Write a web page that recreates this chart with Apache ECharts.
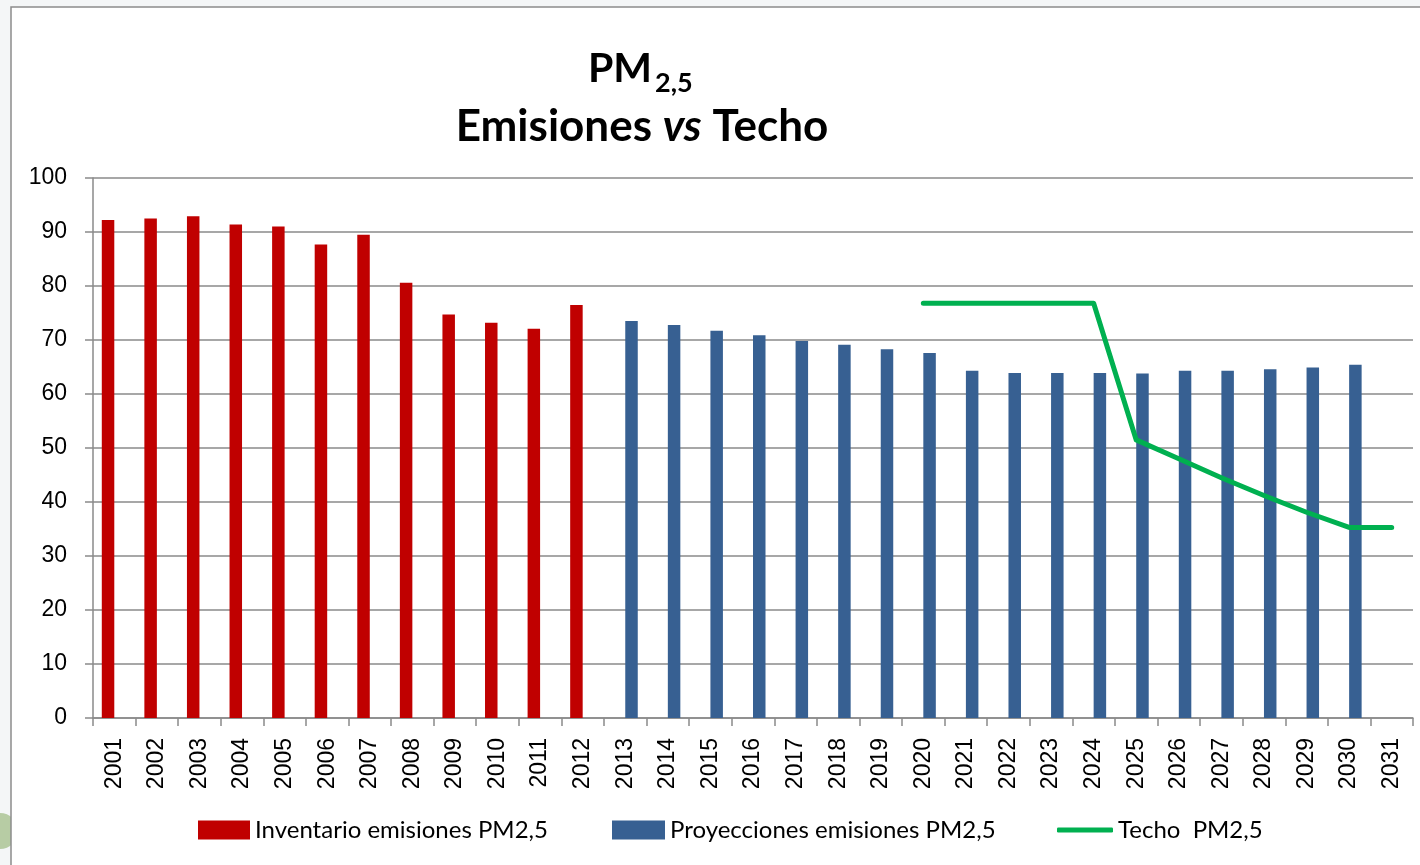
<!DOCTYPE html>
<html>
<head>
<meta charset="utf-8">
<script src="https://cdn.jsdelivr.net/npm/echarts@6/dist/echarts.min.js"></script>
<style>
  html, body { margin: 0; padding: 0; background: #fff; }
  #chart { width: 1420px; height: 865px; }
</style>
</head>
<body>
<div id="chart"></div>
<script>
'use strict';
// PM2,5 emisiones vs techo
const years = ['2001', '2002', '2003', '2004', '2005', '2006', '2007', '2008', '2009', '2010', '2011', '2012', '2013', '2014', '2015', '2016',
  '2017', '2018', '2019', '2020', '2021', '2022', '2023', '2024', '2025', '2026', '2027', '2028', '2029', '2030', '2031'];
// 2001-2012
const inventario = [92.2, 92.5, 92.9, 91.4, 91.0, 87.7, 89.5, 80.6, 74.7, 73.2, 72.1, 76.5];
// 2013-2030
const proyecciones = [73.5, 72.8, 71.7, 70.9, 69.8, 69.1, 68.3, 67.6, 64.3, 63.9, 63.9, 63.9, 63.8, 64.3, 64.3, 64.6, 64.9, 65.4];
// 2020-2031
const techo = [76.8, 76.8, 76.8, 76.8, 76.8, 51.5, 48.0, 44.5, 41.2, 38.1, 35.3, 35.3];
const yTicks = { min: 0, max: 100, step: 10 };

const NAMES = ['Inventario emisiones PM2,5', 'Proyecciones emisiones PM2,5', 'Techo  PM2,5'];
const COLOR = { red: '#c00000', blue: '#376092', green: '#00b050', grid: '#8a8a8a' };

// rellenar con null para alinear con las categorías
const pad = (arr, start) => years.map((y, i) => (i >= start && i - start < arr.length ? arr[i - start] : null));
const invData = pad(inventario, 0);
const proData = pad(proyecciones, years.indexOf('2013'));
const techoData = pad(techo, years.indexOf('2020'));

const chart = echarts.init(document.getElementById('chart'));
const legendText = { fontFamily: 'Lato', fontSize: 24, color: '#000' };

chart.setOption({
  backgroundColor: '#f4f6f7',
  animation: false,
  graphic: [
    { type: 'circle', shape: { cx: 0, cy: 831, r: 18 }, style: { fill: '#b7cca4' }, z: -3 },
    { type: 'rect', shape: { x: 11, y: 7, width: 1500, height: 1000 }, style: { fill: '#fff', stroke: '#8c8c8c', lineWidth: 1.5 }, z: -2 },
    { type: 'text', x: 652, y: 48, style: { text: 'PM', textAlign: 'right', font: 'bold 41px Lato', fill: '#000' } },
    { type: 'text', x: 655, y: 70, style: { text: '2,5', textAlign: 'left', font: 'bold 27px Lato', fill: '#000' } },
    {
      type: 'text', x: 642, y: 105,
      style: {
        text: '{b|Emisiones }{i|vs}{b| Techo}', textAlign: 'center',
        rich: {
          b: { fontFamily: 'Lato', fontWeight: 'bold', fontSize: 44, fill: '#000' },
          i: { fontFamily: 'Lato', fontWeight: 'bold', fontStyle: 'italic', fontSize: 44, fill: '#000' }
        }
      }
    }
  ],
  legend: [
    { left: 198, top: 818, padding: 0, itemWidth: 52, itemHeight: 19, itemGap: 4, icon: 'rect', textStyle: legendText, data: [NAMES[0]] },
    { left: 612, top: 818, padding: 0, itemWidth: 53, itemHeight: 19, itemGap: 4, icon: 'rect', textStyle: legendText, data: [NAMES[1]] },
    { left: 1057, top: 818, padding: 0, itemWidth: 56, itemHeight: 5, itemGap: 4, icon: 'roundRect', textStyle: legendText, data: [NAMES[2]] }
  ],
  grid: { left: 93, right: 7, top: 178, bottom: 147, containLabel: false },
  xAxis: {
    type: 'category', data: years, boundaryGap: true,
    axisLine: { lineStyle: { color: COLOR.grid, width: 1.5 } },
    axisTick: { show: true, length: 8, lineStyle: { color: COLOR.grid, width: 1.5 } },
    axisLabel: { interval: 0, rotate: 90, margin: 20, color: '#000', fontFamily: 'Liberation Sans', fontSize: 23 }
  },
  yAxis: {
    type: 'value', min: yTicks.min, max: yTicks.max, interval: yTicks.step,
    axisLine: { show: true, lineStyle: { color: COLOR.grid, width: 1.5 } },
    axisTick: { show: true, length: 8, lineStyle: { color: COLOR.grid, width: 1.5 } },
    axisLabel: { margin: 26, color: '#000', fontFamily: 'Liberation Sans', fontSize: 23 },
    splitLine: { lineStyle: { color: COLOR.grid, width: 1.5 } }
  },
  series: [
    { name: NAMES[0], type: 'bar', data: invData, barWidth: 12.5, barGap: '0%', itemStyle: { color: COLOR.red } },
    { name: NAMES[1], type: 'bar', data: proData, barWidth: 12.5, barGap: '0%', itemStyle: { color: COLOR.blue } },
    {
      name: NAMES[2], type: 'line', data: techoData, symbol: 'none', connectNulls: false,
      lineStyle: { color: COLOR.green, width: 5, cap: 'round', join: 'round' }, itemStyle: { color: COLOR.green }, z: 5
    }
  ]
});
</script>
</body>
</html>
